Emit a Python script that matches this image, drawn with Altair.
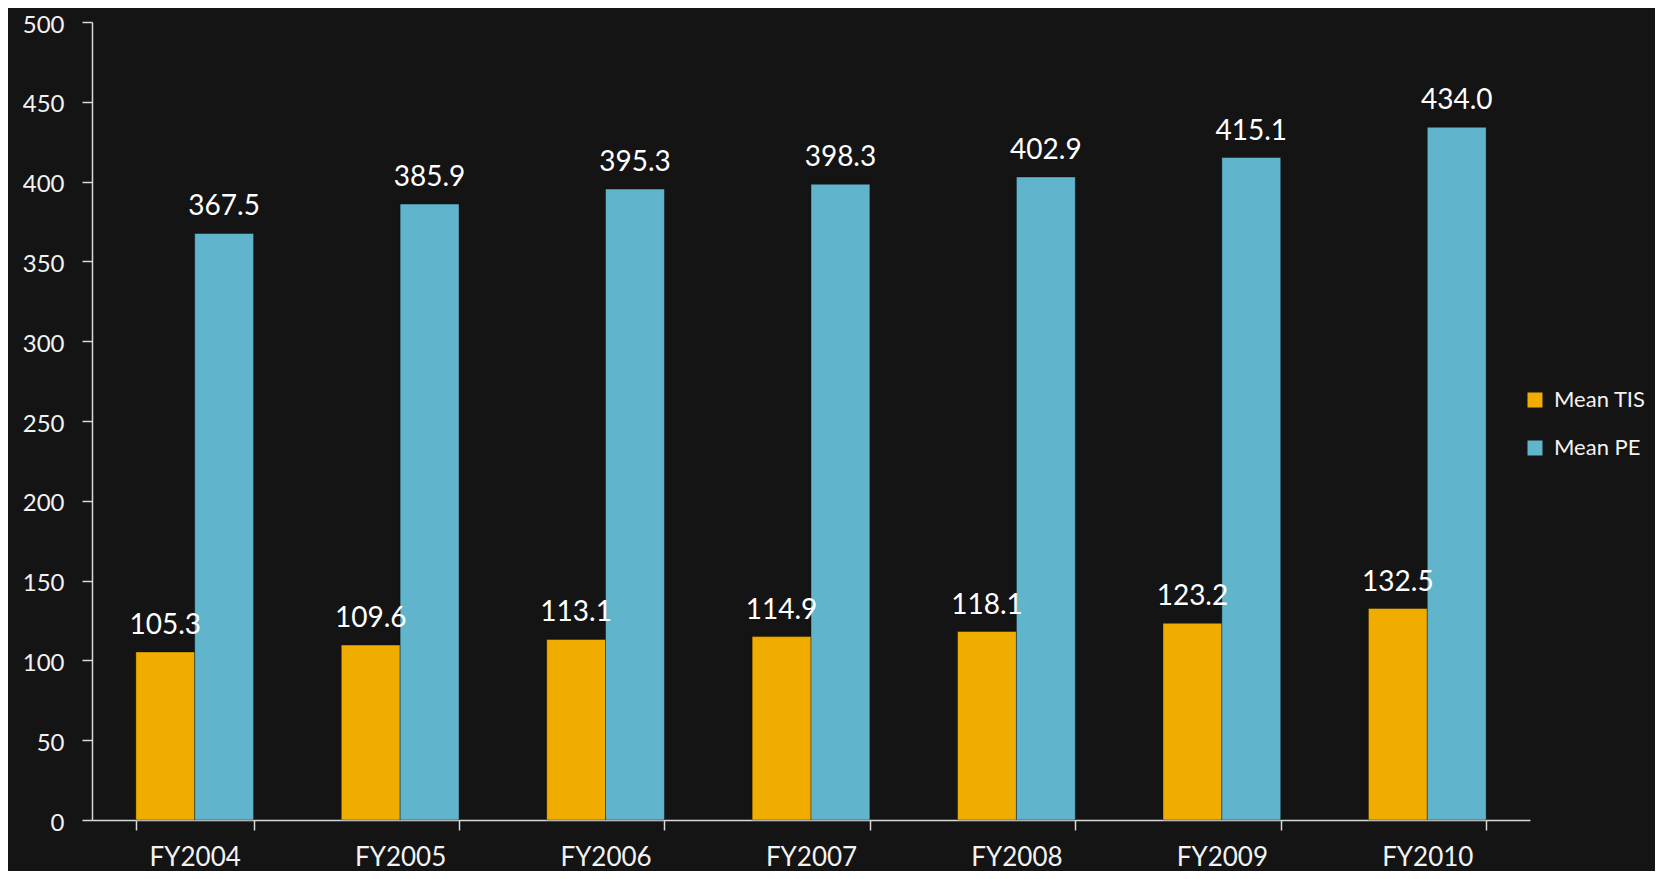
import altair as alt
import pandas as pd

years = ["FY2004", "FY2005", "FY2006", "FY2007", "FY2008", "FY2009", "FY2010"]
mean_tis = [105.3, 109.6, 113.1, 114.9, 118.1, 123.2, 132.5]
mean_pe = [367.5, 385.9, 395.3, 398.3, 402.9, 415.1, 434.0]
series = ["Mean TIS", "Mean PE"]
colors = ["#F0AD00", "#60B5CC"]
y_ticks = list(range(0, 501, 50))

rows = []
for i, y in enumerate(years):
    rows.append({"year": y, "series": series[0], "value": mean_tis[i], "order": 0})
    rows.append({"year": y, "series": series[1], "value": mean_pe[i], "order": 1})
df = pd.DataFrame(rows)

FONT = "Lato"
TXT = "#F2F2F2"

x = alt.X("year:N", sort=years,
          scale=alt.Scale(paddingInner=0.427, paddingOuter=0.2135),
          axis=alt.Axis(title=None, labelAngle=0, labelFontSize=26, labelColor=TXT,
                        labelFont=FONT, labelBaseline="alphabetic", labelPadding=35,
                        tickBand="extent", tickSize=10, tickColor="#D9D9D9",
                        domainColor="#D9D9D9", domainWidth=1.5, tickWidth=1.5))
xo = alt.XOffset("series:N", sort=series, scale=alt.Scale(paddingInner=0, paddingOuter=0))
y = alt.Y("value:Q",
          scale=alt.Scale(domain=[0, 500], nice=False),
          axis=alt.Axis(title=None, values=y_ticks, grid=False, labelFontSize=24,
                        labelColor=TXT, labelFont=FONT, labelPadding=18, tickSize=10,
                        labelOffset=3, labelFlush=False,
                        tickColor="#D9D9D9", domainColor="#D9D9D9", domainWidth=1.5,
                        tickWidth=1.5))

bars = alt.Chart(df).mark_bar(stroke="#000000", strokeOpacity=0.35, strokeWidth=1).encode(
    x=x, xOffset=xo, y=y,
    color=alt.Color("series:N", sort=series,
                    scale=alt.Scale(domain=series, range=colors),
                    legend=alt.Legend(title=None, orient="none", legendX=1432, legendY=367,
                                      symbolType="square", symbolSize=225,
                                      symbolStrokeWidth=0, labelFontSize=22,
                                      labelColor=TXT, labelFont=FONT, labelOffset=8,
                                      rowPadding=26, padding=0)),
)

labels = alt.Chart(df).mark_text(fontSize=28, color="#FFFFFF", font=FONT,
                                 baseline="alphabetic", dy=-18).encode(
    x=x, xOffset=xo, y=y,
    text=alt.Text("value:Q", format=".1f"),
)

chart = alt.layer(bars, labels).properties(
    width=1438, height=798,
    background="#141414",
    padding={"left": 84, "top": 14, "right": 125, "bottom": 51},
    autosize=alt.AutoSizeParams(type="none"),
).configure_view(stroke=None)

chart.save("out.html", embed_options={"renderer": "svg", "actions": False})
